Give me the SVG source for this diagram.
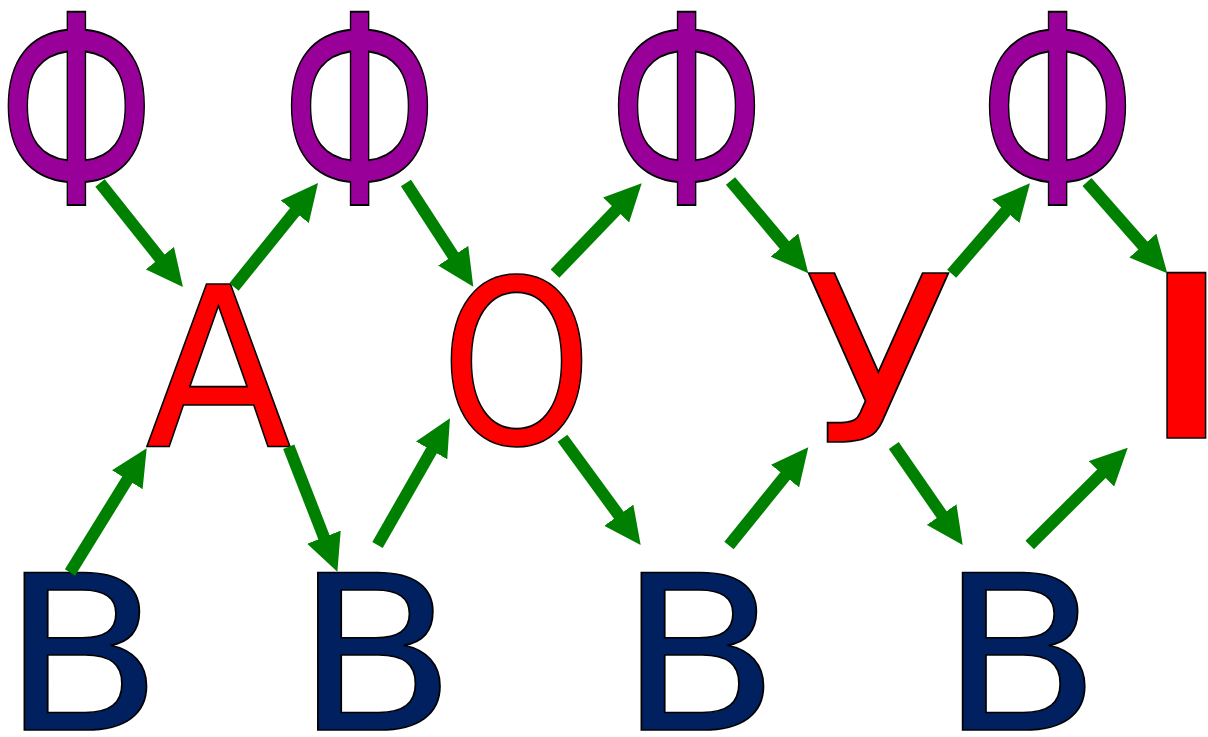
<svg xmlns="http://www.w3.org/2000/svg" width="1208" height="737" viewBox="0 0 1208 737">
<style>
text{font-family:"DejaVu Sans","Liberation Sans",sans-serif;font-size:100px;text-anchor:middle;stroke:#000;stroke-width:0.75px;stroke-linejoin:miter}
.f{fill:#990099}
.b{fill:#00205f}
.v{fill:#ff0000}
.c line{stroke:#008000;stroke-width:12;marker-end:url(#ah)}
</style>
<defs>
<marker id="ah" viewBox="0 0 37 36" markerWidth="37" markerHeight="36" markerUnits="userSpaceOnUse" refX="1" refY="18" orient="auto">
<path d="M0,0 L37,18 L0,36 z" fill="#008000"/>
</marker>
</defs>
<rect width="1208" height="737" fill="#fff"/>
<g id="f1"><text class="f" transform="translate(76.3,205) scale(1.83,2.65)">Ф</text></g>
<g id="f2"><text class="f" transform="translate(359.5,205) scale(1.83,2.65)">Ф</text></g>
<g id="f3"><text class="f" transform="translate(686.5,205) scale(1.83,2.65)">Ф</text></g>
<g id="f4"><text class="f" transform="translate(1057.5,205) scale(1.83,2.65)">Ф</text></g>
<g id="a"><text class="v" transform="translate(218.5,447) scale(2.14,2.222)">А</text></g>
<g id="o"><text class="v" transform="translate(516.5,443.8) scale(1.93,2.288)">О</text></g>
<g id="u"><text class="v" transform="translate(878.5,442) scale(2.43,2.32)">У</text></g>
<g id="i"><text class="v" font-weight="bold" transform="translate(1186.5,438) scale(2.05,2.263)">І</text></g>
<g id="b1"><text class="b" transform="translate(82.3,730) scale(2.36,2.167)">В</text></g>
<g id="b2"><text class="b" transform="translate(375.8,730) scale(2.36,2.167)">В</text></g>
<g id="b3"><text class="b" transform="translate(699.3,730) scale(2.36,2.167)">В</text></g>
<g id="b4"><text class="b" transform="translate(1020.5,730) scale(2.36,2.167)">В</text></g>
<g id="connectors" class="c">
<line x1="100" y1="183" x2="160.5" y2="258.9"/>
<line x1="234" y1="287" x2="295.4" y2="211"/>
<line x1="406" y1="183" x2="453.7" y2="256.5"/>
<line x1="555" y1="273.7" x2="616.8" y2="209.3"/>
<line x1="730.5" y1="181" x2="785.1" y2="245.8"/>
<line x1="951.7" y1="273.7" x2="1006.4" y2="210.5"/>
<line x1="1087" y1="182" x2="1143.5" y2="246.3"/>
<line x1="70" y1="572.5" x2="127.8" y2="478.9"/>
<line x1="288.7" y1="446.7" x2="324.3" y2="538.1"/>
<line x1="377.5" y1="545" x2="432.1" y2="449.5"/>
<line x1="562.5" y1="438.3" x2="619.4" y2="516"/>
<line x1="729" y1="545.5" x2="785.7" y2="475.3"/>
<line x1="893.8" y1="445.5" x2="942.2" y2="515.4"/>
<line x1="1029.7" y1="545" x2="1102.2" y2="473.1"/>
</g>
</svg>
